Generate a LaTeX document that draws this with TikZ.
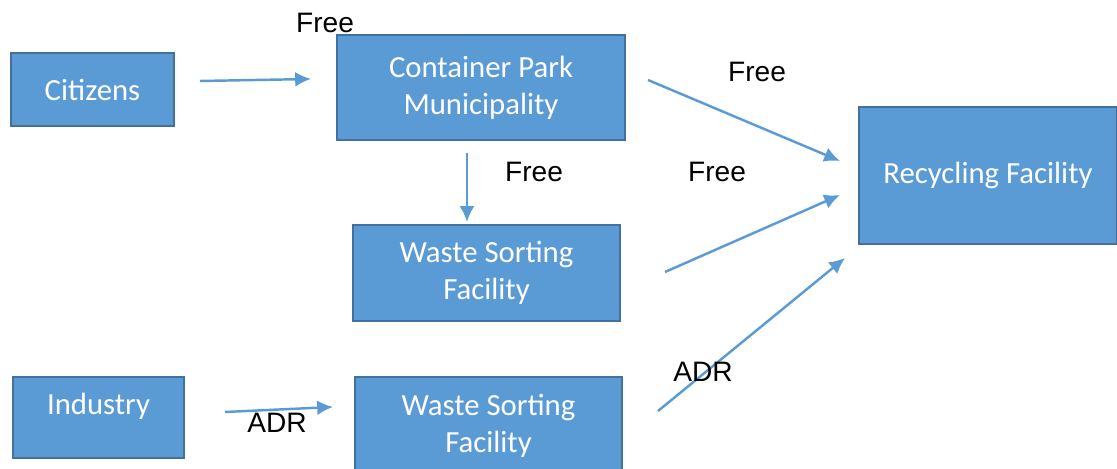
\documentclass[tikz,border=0pt]{standalone}
\usepackage{fontspec}
\setmainfont{Carlito}
\newfontfamily\labelfont{Liberation Sans}
\usetikzlibrary{arrows.meta,positioning}
\definecolor{boxblue}{HTML}{5B9BD5}
\definecolor{boxline}{HTML}{41719C}

\begin{document}
\begin{tikzpicture}[x=0.02cm, y=-0.02cm,
    box/.style={draw=boxline, fill=boxblue, line width=0.8pt, text=white,
      font=\fontsize{17.5}{21}\selectfont, align=center, inner sep=0pt},
    boxtext/.style={text=white, font=\fontsize{17.5}{21}\selectfont, inner sep=0pt},
    price/.style={font=\labelfont\fontsize{16}{19}\selectfont, inner sep=0pt},
    flow/.style={-{Latex[length=9pt,width=8.5pt]}, draw=boxblue, fill=boxblue, line width=1.4pt}]
    \useasboundingbox (0,0) rectangle (1117,469);
    % boxes
    \node[box, minimum width=3.26cm, minimum height=1.46cm] (cit) at (92.5,89.5) {Citizens};
    \node[box, minimum width=5.76cm, minimum height=2.1cm] (cp) at (481,87.5) {Container Park\\Municipality};
    \node[box, minimum width=5.34cm, minimum height=1.92cm] (ws1) at (486.5,273) {Waste Sorting\\Facility};
    \node[box, minimum width=5.16cm, minimum height=2.74cm] (rec) at (988,175.5) {Recycling Facility};
    \node[box, minimum width=3.42cm, minimum height=1.62cm] (ind) at (98.5,417.5) {};
    \node[boxtext] (indtxt) at (98.5,406) {Industry};
    \node[box, minimum width=5.34cm, minimum height=1.96cm] (ws2) at (488.5,426) {Waste Sorting\\Facility};
    % arrow ends
    \coordinate (cit-out) at (200,81);
    \coordinate (cp-in) at (311,79);
    \coordinate (cp-down) at (467,153);
    \coordinate (ws1-in) at (467,222);
    \coordinate (cp-out) at (648,80);
    \coordinate (rec-in1) at (840,161);
    \coordinate (ws1-out) at (665,272);
    \coordinate (rec-in2) at (840,195);
    \coordinate (ws2-out) at (658,411);
    \coordinate (rec-in3) at (845,258);
    \coordinate (ind-out) at (225,412);
    \coordinate (ws2-in) at (333,407);
    \draw[flow] (cit-out) -- (cp-in);
    \draw[flow] (cp-down) -- (ws1-in);
    \draw[flow] (cp-out) -- (rec-in1);
    \draw[flow] (ws1-out) -- (rec-in2);
    \draw[flow] (ws2-out) -- (rec-in3);
    \draw[flow] (ind-out) -- (ws2-in);
    % labels
    \node[price] (free1) at (325,23) {Free};
    \node[price] (free2) at (757,72) {Free};
    \node[price] (free3) at (534,172) {Free};
    \node[price] (free4) at (717,172) {Free};
    \node[price] (adr1) at (703,372) {ADR};
    \node[price] (adr2) at (277,423) {ADR};
\end{tikzpicture}
\end{document}
